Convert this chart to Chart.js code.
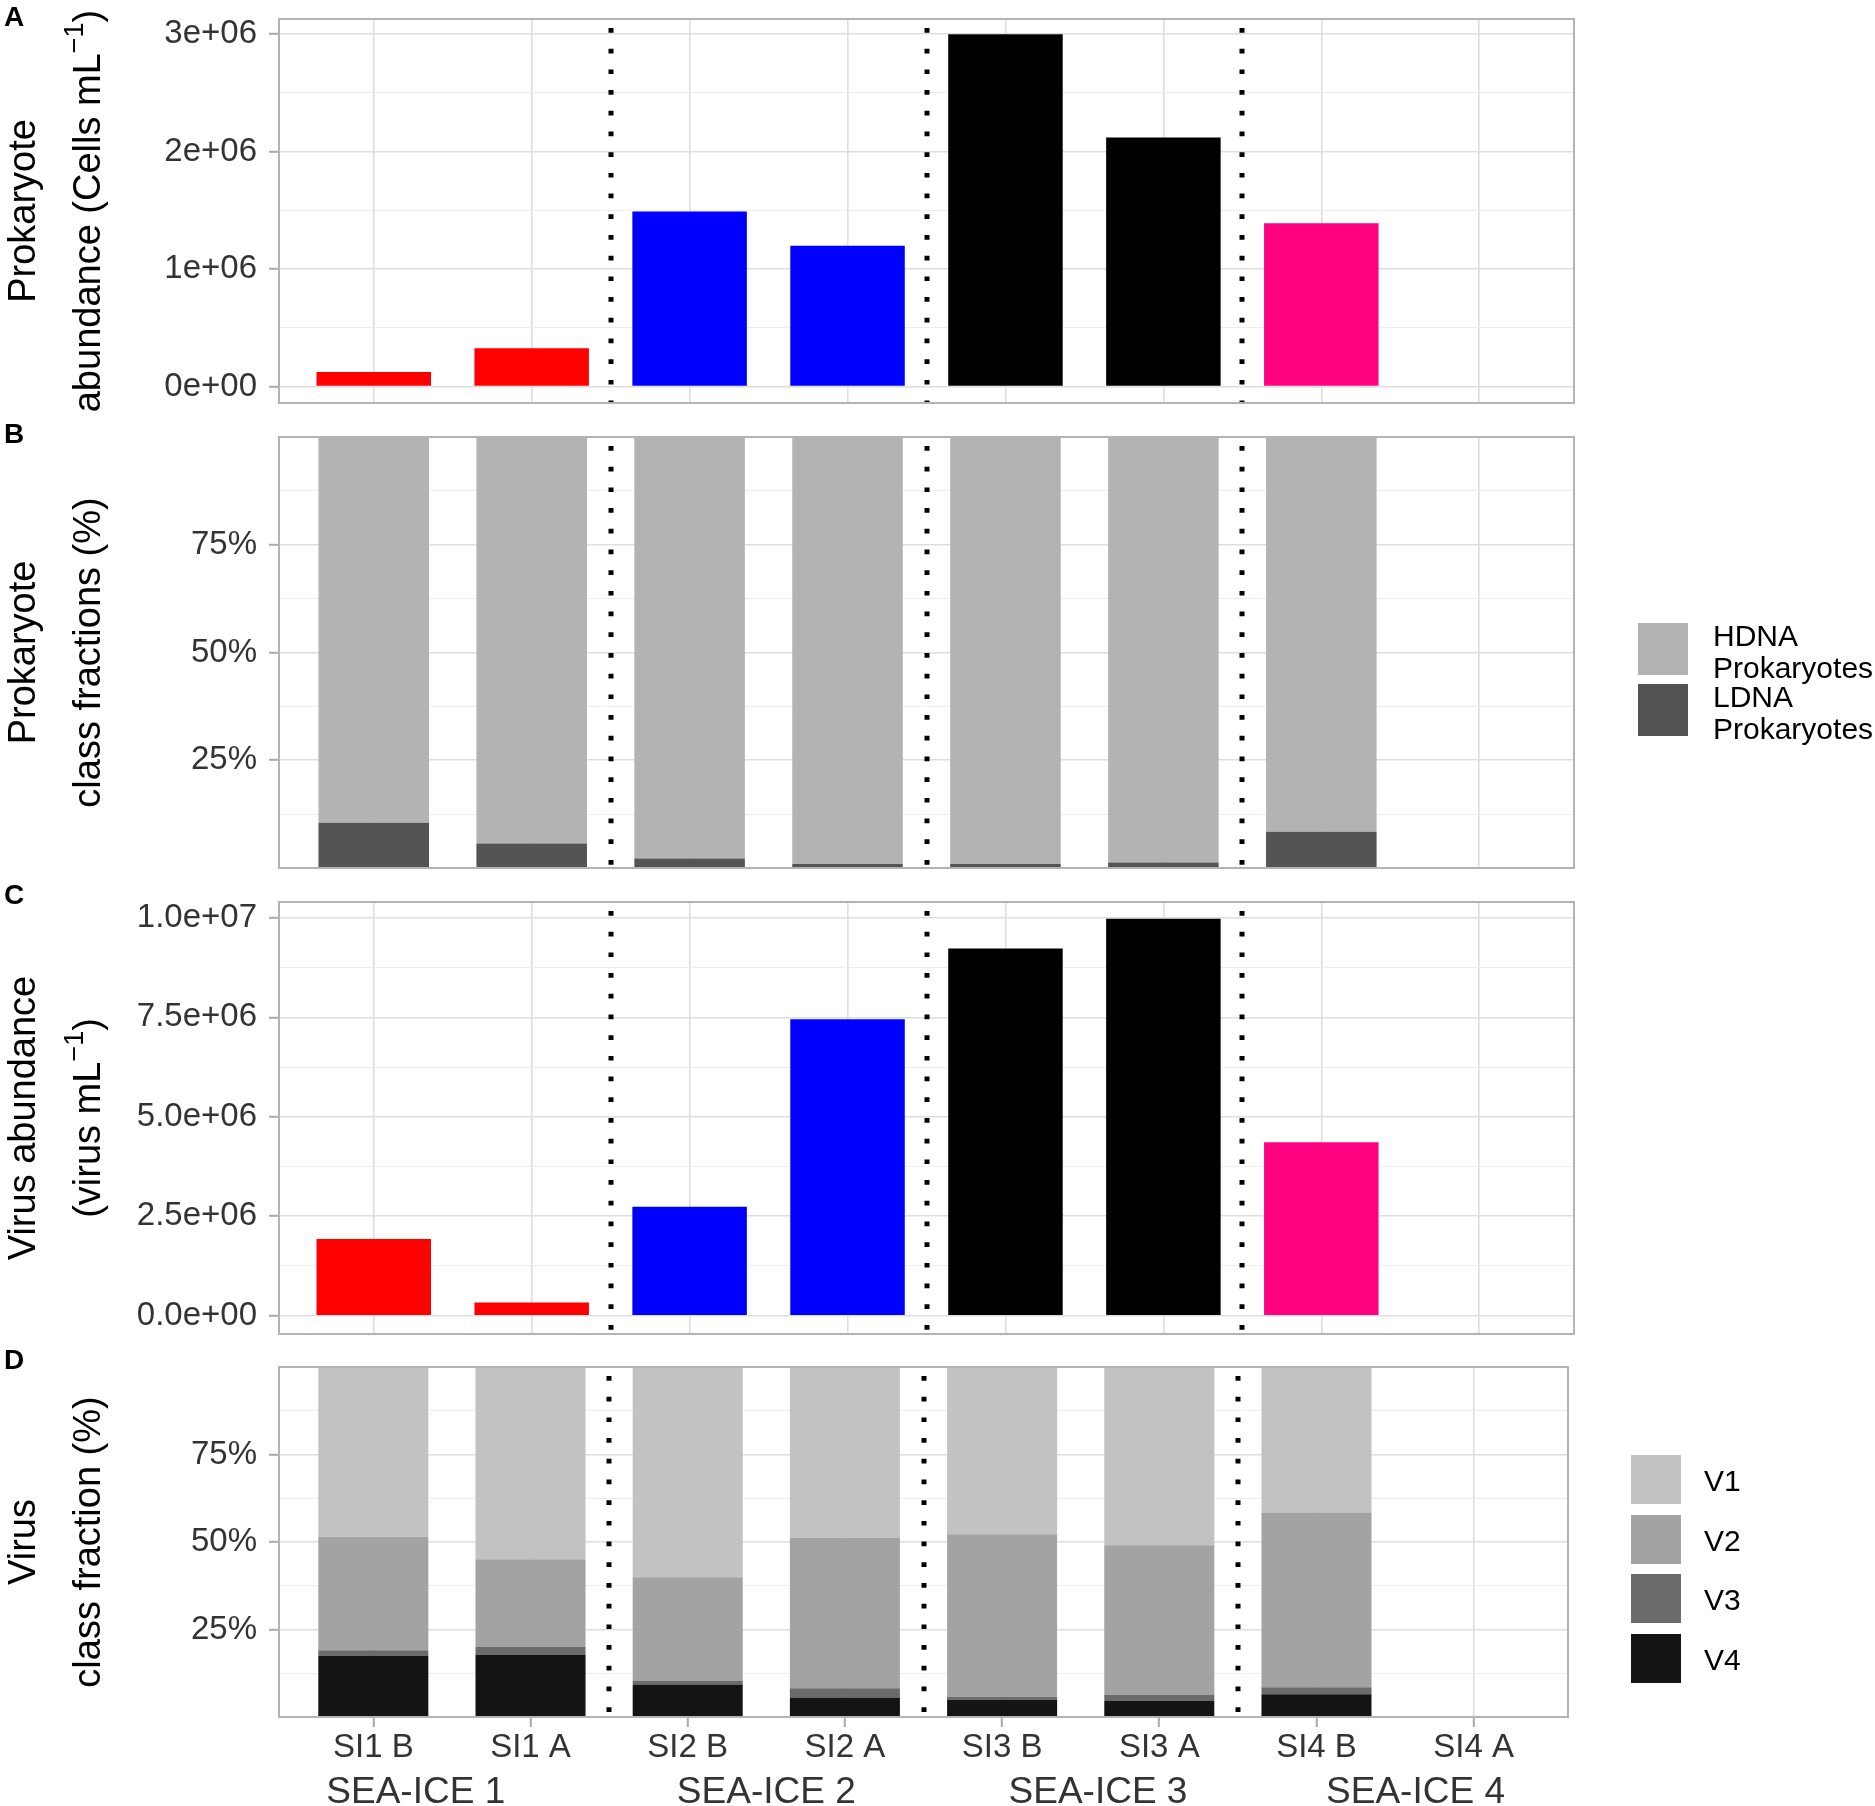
<!DOCTYPE html>
<html>
<head>
<meta charset="utf-8">
<title>Sea-ice prokaryote and virus abundance</title>
<script src="https://cdn.jsdelivr.net/npm/chart.js@4.4.0/dist/chart.umd.min.js"></script>
<style>
    html, body { margin: 0; padding: 0; background: #fff; }
    #wrap { position: relative; width: 1875px; height: 1806px; overflow: hidden; background: #fff; }
    #wrap canvas { position: absolute; left: 0; top: 0; }
</style>
</head>
<body>
<div id="wrap">
    <canvas id="chartA" width="1875" height="1806"></canvas>
    <canvas id="chartB" width="1875" height="1806"></canvas>
    <canvas id="chartC" width="1875" height="1806"></canvas>
    <canvas id="chartD" width="1875" height="1806"></canvas>
</div>
<script>
// categories
const samples = ['SI1 B', 'SI1 A', 'SI2 B', 'SI2 A', 'SI3 B', 'SI3 A', 'SI4 B', 'SI4 A'];
const seaIce = ['SEA-ICE 1', 'SEA-ICE 2', 'SEA-ICE 3', 'SEA-ICE 4'];
const sampleColors = ['#fe0000', '#fe0000', '#0000fe', '#0000fe', '#000000', '#000000', '#fe0282', '#fe0282'];

// A: prokaryote abundance (cells / mL)
const prokAbundance = [1.25e5, 3.26e5, 1.49e6, 1.20e6, 3.0e6, 2.12e6, 1.39e6, null];
// B: prokaryote class fractions (%)
const ldnaPct = [10.5, 5.7, 2.2, 0.9, 0.9, 1.3, 8.4, null];
const hdnaPct = [89.5, 94.3, 97.8, 99.1, 99.1, 98.7, 91.6, null];
// C: virus abundance (virus / mL)
const virusAbundance = [1.93e6, 0.33e6, 2.74e6, 7.45e6, 9.23e6, 9.98e6, 4.36e6, null];
// D: virus class fractions (%)
const v4Pct = [17.4, 17.7, 9.3, 5.6, 4.9, 4.6, 6.5, null];
const v3Pct = [1.7, 2.4, 1.0, 2.6, 0.9, 1.7, 2.0, null];
const v2Pct = [32.4, 25.0, 29.6, 43.0, 46.4, 42.8, 49.9, null];
const v1Pct = [48.5, 54.9, 60.1, 48.8, 47.8, 50.9, 41.6, null];

// tick values and labels
const prokTicks = [0, 1e6, 2e6, 3e6];
const prokTickLabels = ['0e+00', '1e+06', '2e+06', '3e+06'];
const prokMinor = [5e5, 1.5e6, 2.5e6];
const virusTicks = [0, 2.5e6, 5e6, 7.5e6, 1e7];
const virusTickLabels = ['0.0e+00', '2.5e+06', '5.0e+06', '7.5e+06', '1.0e+07'];
const virusMinor = [1.25e6, 3.75e6, 6.25e6, 8.75e6];
const pctTicks = [25, 50, 75];
const pctTickLabels = ['25%', '50%', '75%'];
const pctMinor = [12.5, 37.5, 62.5, 87.5];

// dotted separators between the sea-ice groups (in category units)
const groupBreaks = [1.5, 3.5, 5.5];

const PAGE_W = 1875, PAGE_H = 1806, PLOT_LEFT = 279;
const FONT = "'Liberation Sans', Arial, Helvetica, sans-serif";
const TEXT = '#333333';
const GRID_MAJOR = '#dedede', GRID_MINOR = '#ececec', BORDER = '#b3b3b3';

Chart.defaults.font.family = FONT;

const pairs = (values) => values.map((v, i) => ({ x: i, y: v }));

const panels = [
    {
        id: 'chartA', letter: 'A', letterY: 26, top: 19, bottom: 403, right: 1574,
        yMin: -1.4e5, yMax: 3.13e6, ticks: prokTicks, labels: prokTickLabels, minor: prokMinor,
        stacked: false, barPct: 0.725, xLabels: false,
        title: [[{ t: 'Prokaryote' }], [{ t: 'abundance (Cells mL' }, { t: '\u22121', sup: true }, { t: ')' }]],
        datasets: [{ data: pairs(prokAbundance), backgroundColor: sampleColors }]
    },
    {
        id: 'chartB', letter: 'B', letterY: 443, top: 437, bottom: 868, right: 1574,
        yMin: 0, yMax: 100, ticks: pctTicks, labels: pctTickLabels, minor: pctMinor,
        stacked: true, barPct: 0.70, xLabels: false,
        title: [[{ t: 'Prokaryote' }], [{ t: 'class fractions (%)' }]],
        datasets: [
            { label: 'LDNA Prokaryotes', data: pairs(ldnaPct), backgroundColor: '#545454' },
            { label: 'HDNA Prokaryotes', data: pairs(hdnaPct), backgroundColor: '#b3b3b3' }
        ],
        legend: {
            x: 1638, textX: 1713, w: 50, h: 52,
            items: [
                { color: '#b3b3b3', top: 623, lines: ['HDNA', 'Prokaryotes'], base: [646, 678] },
                { color: '#545454', top: 684, lines: ['LDNA', 'Prokaryotes'], base: [707, 739] }
            ]
        }
    },
    {
        id: 'chartC', letter: 'C', letterY: 904, top: 902, bottom: 1334, right: 1574,
        yMin: -4.6e5, yMax: 1.04e7, ticks: virusTicks, labels: virusTickLabels, minor: virusMinor,
        stacked: false, barPct: 0.725, xLabels: false,
        title: [[{ t: 'Virus abundance' }], [{ t: '(virus mL' }, { t: '\u22121', sup: true }, { t: ')' }]],
        datasets: [{ data: pairs(virusAbundance), backgroundColor: sampleColors }]
    },
    {
        id: 'chartD', letter: 'D', letterY: 1369, top: 1367, bottom: 1717, right: 1568,
        yMin: 0, yMax: 100, ticks: pctTicks, labels: pctTickLabels, minor: pctMinor,
        stacked: true, barPct: 0.70, xLabels: true,
        title: [[{ t: 'Virus' }], [{ t: 'class fraction (%)' }]],
        datasets: [
            { label: 'V4', data: pairs(v4Pct), backgroundColor: '#141414' },
            { label: 'V3', data: pairs(v3Pct), backgroundColor: '#6b6b6b' },
            { label: 'V2', data: pairs(v2Pct), backgroundColor: '#a3a3a3' },
            { label: 'V1', data: pairs(v1Pct), backgroundColor: '#c2c2c2' }
        ],
        legend: {
            x: 1631, textX: 1704, w: 50, h: 49,
            items: [
                { color: '#c2c2c2', top: 1455, lines: ['V1'], base: [1491] },
                { color: '#a3a3a3', top: 1515, lines: ['V2'], base: [1551] },
                { color: '#6b6b6b', top: 1574, lines: ['V3'], base: [1610] },
                { color: '#141414', top: 1634, lines: ['V4'], base: [1670] }
            ]
        },
        // where the SEA-ICE group names sit, in category units
        groupLabelPos: [0.27, 2.5, 4.61, 6.63]
    }
];

// one rotated line of text, centred on cy, with optional superscript parts
function drawRotatedLine(ctx, parts, baseX, cy) {
    const font = '38px ' + FONT, supFont = '27px ' + FONT;
    ctx.save();
    ctx.translate(baseX, cy);
    ctx.rotate(-Math.PI / 2);
    ctx.textAlign = 'left';
    ctx.textBaseline = 'alphabetic';
    let total = 0;
    parts.forEach(pt => {
        ctx.font = pt.sup ? supFont : font;
        total += ctx.measureText(pt.t).width;
    });
    let x = -total / 2;
    parts.forEach(pt => {
        ctx.font = pt.sup ? supFont : font;
        ctx.fillText(pt.t, x, pt.sup ? -17 : 0);
        x += ctx.measureText(pt.t).width;
    });
    ctx.restore();
}

function decor(p) {
    return {
        id: 'decor' + p.letter,
        afterDatasetsDraw(chart) {
            const { ctx, chartArea: a, scales: { x } } = chart;
            ctx.save();

            // dotted separators
            ctx.strokeStyle = '#000';
            ctx.lineWidth = 5;
            ctx.setLineDash([4.7, 16]);
            groupBreaks.forEach(b => {
                const px = Math.round(x.getPixelForValue(b));
                ctx.beginPath();
                ctx.moveTo(px, a.top + 9);
                ctx.lineTo(px, a.bottom);
                ctx.stroke();
            });
            ctx.setLineDash([]);

            // panel border
            ctx.strokeStyle = BORDER;
            ctx.lineWidth = 2;
            ctx.strokeRect(a.left, a.top, a.right - a.left, a.bottom - a.top);

            // panel letter
            ctx.fillStyle = '#000';
            ctx.font = 'bold 28px ' + FONT;
            ctx.textAlign = 'left';
            ctx.textBaseline = 'alphabetic';
            ctx.fillText(p.letter, 4, p.letterY);

            // y axis title, two lines
            const cy = (a.top + a.bottom) / 2;
            drawRotatedLine(ctx, p.title[0], 35, cy);
            drawRotatedLine(ctx, p.title[1], 100, cy);

            // legend
            if (p.legend) {
                const lg = p.legend;
                ctx.font = '30px ' + FONT;
                lg.items.forEach(it => {
                    ctx.fillStyle = it.color;
                    ctx.fillRect(lg.x, it.top, lg.w, lg.h);
                    ctx.fillStyle = '#000';
                    it.lines.forEach((ln, k) => ctx.fillText(ln, lg.textX, it.base[k]));
                });
            }

            // sea-ice group names under the sample labels
            if (p.groupLabelPos) {
                ctx.fillStyle = TEXT;
                ctx.font = '37px ' + FONT;
                ctx.textAlign = 'center';
                seaIce.forEach((name, i) => {
                    ctx.fillText(name, x.getPixelForValue(p.groupLabelPos[i]), 1803);
                });
            }
            ctx.restore();
        }
    };
}

function makeChart(p) {
    const allTicks = p.ticks.concat(p.minor).sort((m, n) => m - n);
    const isMajor = (c) => c.tick && p.ticks.includes(c.tick.value);
    p.datasets.forEach(ds => {
        ds.borderWidth = 0;
        ds.barPercentage = p.barPct;
        ds.categoryPercentage = 1;
    });
    return new Chart(document.getElementById(p.id), {
        type: 'bar',
        data: { datasets: p.datasets },
        options: {
            responsive: false,
            animation: false,
            devicePixelRatio: 1,
            events: [],
            layout: {
                padding: {
                    left: 0,
                    top: p.top,
                    right: PAGE_W - p.right,
                    bottom: p.xLabels ? 0 : PAGE_H - p.bottom
                }
            },
            scales: {
                x: {
                    type: 'linear',
                    min: -0.6,
                    max: samples.length - 0.4,
                    stacked: p.stacked,
                    offset: false,
                    afterBuildTicks: s => { s.ticks = samples.map((_, i) => ({ value: i })); },
                    afterFit: s => {
                        s.height = p.xLabels ? PAGE_H - p.bottom : 0;
                        s.paddingLeft = 0;
                        s.paddingRight = 0;
                    },
                    border: { display: false },
                    grid: {
                        offset: false,
                        color: GRID_MAJOR,
                        lineWidth: 1.6,
                        drawTicks: p.xLabels,
                        tickLength: 10,
                        tickColor: '#aaaaaa',
                        tickWidth: 2
                    },
                    ticks: {
                        display: p.xLabels,
                        autoSkip: false,
                        maxRotation: 0,
                        padding: 1,
                        color: TEXT,
                        font: { size: 33 },
                        callback: v => samples[v]
                    }
                },
                y: {
                    min: p.yMin,
                    max: p.yMax,
                    stacked: p.stacked,
                    afterBuildTicks: s => { s.ticks = allTicks.map(v => ({ value: v })); },
                    afterFit: s => {
                        s.width = PLOT_LEFT;
                        s.paddingTop = 0;
                        s.paddingBottom = 0;
                    },
                    border: { display: false },
                    grid: {
                        color: c => isMajor(c) ? GRID_MAJOR : GRID_MINOR,
                        lineWidth: c => isMajor(c) ? 1.6 : 1,
                        tickLength: 10,
                        tickColor: c => isMajor(c) ? '#aaaaaa' : 'rgba(0,0,0,0)',
                        tickWidth: 2
                    },
                    ticks: {
                        autoSkip: false,
                        padding: 12,
                        color: TEXT,
                        font: { size: 33 },
                        callback: v => {
                            const i = p.ticks.indexOf(v);
                            return i < 0 ? '' : p.labels[i];
                        }
                    }
                }
            },
            plugins: {
                legend: { display: false },
                tooltip: { enabled: false }
            }
        },
        plugins: [decor(p)]
    });
}

panels.forEach(makeChart);
</script>
</body>
</html>
